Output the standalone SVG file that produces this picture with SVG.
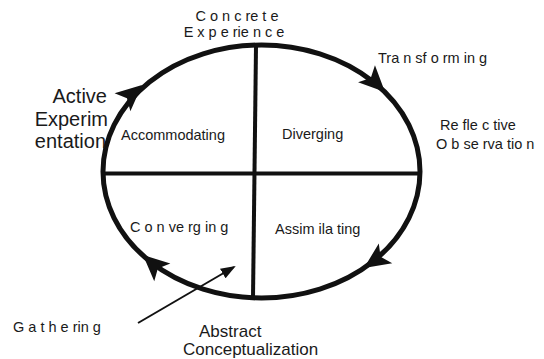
<svg xmlns="http://www.w3.org/2000/svg" width="544" height="359" viewBox="0 0 544 359">
<style>
text{font-family:"Liberation Sans",Arial,sans-serif;fill:#1a1a1a}
.s{font-size:14.5px}
.b{font-size:20px}
.m{font-size:17px}
.cyc{fill:none;stroke:#111;stroke-width:5}
.q{stroke:#111;stroke-width:4}
.hd{fill:#111}
</style>
<defs>
<polygon id="head" points="0,0 -26,-12 -20,0 -26,12"/>
<marker id="ah2" viewBox="0 0 15 11" refX="13" refY="5.5" markerWidth="15" markerHeight="11" markerUnits="userSpaceOnUse" orient="auto">
<path d="M0,0 L15,5.5 L0,11 z" fill="#111"/>
</marker>
</defs>
<rect width="544" height="359" fill="#fff"/>
<g id="connectors">
<ellipse class="cyc" cx="261.5" cy="171.5" rx="158.5" ry="126.5"/>
<use href="#head" class="hd" transform="translate(142,85) rotate(-41.3)"/>
<use href="#head" class="hd" transform="translate(385,92) rotate(44.7)"/>
<use href="#head" class="hd" transform="translate(364,268) rotate(145.9)"/>
<use href="#head" class="hd" transform="translate(143,255) rotate(222.1)"/>
<line class="q" x1="256" y1="46" x2="253" y2="298"/>
<line class="q" x1="104" y1="173.5" x2="420" y2="173.5"/>
<line x1="138" y1="323" x2="234" y2="267" stroke="#111" stroke-width="2" marker-end="url(#ah2)"/>
</g>
<g id="concrete-experience">
<text class="s" x="237" y="21" text-anchor="middle">C o n c re t e</text>
<text class="s" x="234" y="37" text-anchor="middle">E x p e rie n c e</text>
</g>
<g id="transforming"><text class="s" x="378" y="63">Tra n sf o rm in g</text></g>
<g id="reflective-observation">
<text class="s" x="440" y="130">Re fle c tive</text>
<text class="s" x="436" y="149">O b se rva tio n</text>
</g>
<g id="active-experimentation">
<text class="b" x="107" y="103" text-anchor="end">Active</text>
<text class="b" x="108" y="126" text-anchor="end">Experim</text>
<text class="b" x="106" y="148" text-anchor="end">entation</text>
</g>
<g id="accommodating"><text class="s" x="121" y="140">Accommodating</text></g>
<g id="diverging"><text class="s" x="282" y="139">Diverging</text></g>
<g id="converging"><text class="s" x="130" y="232">C o n ve rg in g</text></g>
<g id="assimilating"><text class="s" x="275" y="234">Assim ila ting</text></g>
<g id="gathering"><text class="s" x="13" y="332">G a t h e rin g</text></g>
<g id="abstract-conceptualization">
<text class="m" x="199" y="337">Abstract</text>
<text class="m" x="183" y="355">Conceptualization</text>
</g>
</svg>
